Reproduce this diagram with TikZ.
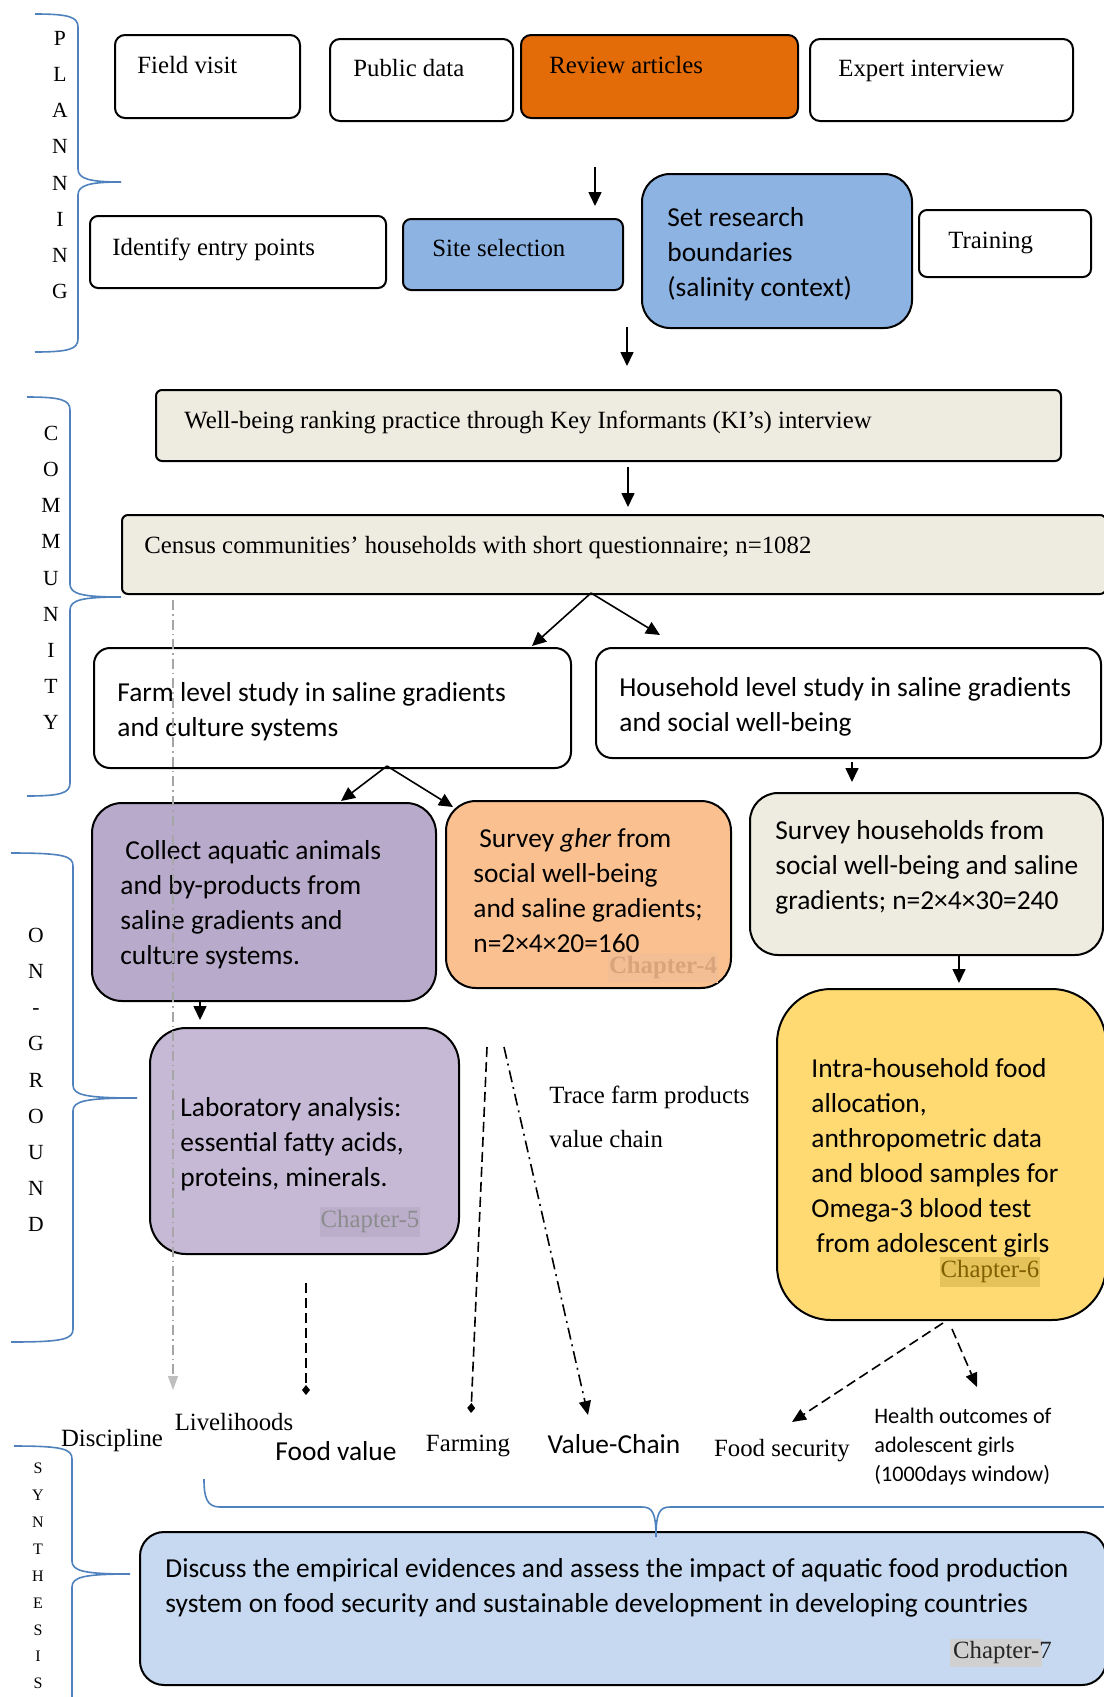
\documentclass[tikz,border=0pt]{standalone}
\usepackage{fontspec}
\setmainfont{Liberation Serif}
\newfontfamily\calibri{Carlito}
\usetikzlibrary{arrows.meta}

\definecolor{revieworange}{HTML}{E36C09}
\definecolor{siteblue}{HTML}{8DB3E2}
\definecolor{rankgrey}{HTML}{EEECE1}
\definecolor{collectpurple}{HTML}{B8AACB}
\definecolor{labpurple}{HTML}{C5B9D6}
\definecolor{gherpeach}{HTML}{FAC090}
\definecolor{girlsyellow}{HTML}{FFD972}
\definecolor{synthblue}{HTML}{C6D9F1}
\definecolor{braceblue}{HTML}{4F81BD}
\definecolor{chfivehl}{HTML}{BAAECB}
\definecolor{chfourhl}{HTML}{F3BE93}
\definecolor{chfourtext}{HTML}{D9A47C}
\definecolor{chsixhl}{HTML}{E6C35A}
\definecolor{chsixtext}{HTML}{7F6000}
\definecolor{chsevenhl}{HTML}{D0D0D0}

% curly bracket of a phase: left end, stem, tip x; top, tip, bottom y
\newcommand{\phasebrace}[6]{%
  \draw[phase] (#1,#4) .. controls (#2-9,#4) and (#2,#4+3) .. (#2,#4+13)
    -- (#2,#5-13) .. controls (#2,#5-3) and (#2+12,#5) .. (#3,#5)
    .. controls (#2+12,#5) and (#2,#5+3) .. (#2,#5+13)
    -- (#2,#6-13) .. controls (#2,#6-3) and (#2-9,#6) .. (#1,#6);}

\begin{document}
\begin{tikzpicture}[x=0.5pt,y=-0.5pt,
    box/.style={draw=black, line width=1pt, anchor=north west, inner sep=0pt},
    words/.style={font=\fontsize{12.4}{15}\selectfont, text height=8.7pt, text depth=2.7pt, inner xsep=0pt},
    sans/.style={font=\calibri\fontsize{13.7}{17.5}\selectfont, align=left, inner xsep=0pt},
    letters/.style={align=center, font=\fontsize{10.8}{18.1}\selectfont},
    chap/.style={font=\fontsize{12.4}{15}\selectfont, inner xsep=0.5pt, inner ysep=2pt},
    arr/.style={line width=0.8pt, -{Triangle[length=7pt,width=6.5pt]}},
    dashedarr/.style={line width=0.8pt, dash pattern=on 5pt off 2.5pt},
    phase/.style={draw=braceblue, line width=0.8pt}]

\useasboundingbox (0,0) rectangle (1103,1697);

% boxes
\begin{scope}[every node/.style={box, rounded corners=5pt}]
    \node[minimum width=92.5pt, minimum height=41.5pt] (field) at (114,34) {};
    \node[minimum width=91.5pt, minimum height=41pt] (public) at (329,38) {};
    \node[minimum width=138.5pt, minimum height=41.5pt, fill=revieworange] (review) at (520,34) {};
    \node[minimum width=131.5pt, minimum height=41pt] (expert) at (809,38) {};

    \node[minimum width=148pt, minimum height=36pt, rounded corners=4pt] (identify) at (89,215) {};
    \node[minimum width=110pt, minimum height=35.5pt, rounded corners=4pt, fill=siteblue] (site) at (402,218) {};
    \node[minimum width=135pt, minimum height=77pt, rounded corners=14pt, fill=siteblue] (bound) at (641,173) {};
    \node[minimum width=86pt, minimum height=33.5pt, rounded corners=4pt] (training) at (918,209) {};

    \node[minimum width=452.5pt, minimum height=35.5pt, rounded corners=3pt, fill=rankgrey] (ranking) at (155,389) {};
    \node[minimum width=492pt, minimum height=39.5pt, rounded corners=3pt, fill=rankgrey] (census) at (121,514) {};

    \node[minimum width=238.5pt, minimum height=60pt, rounded corners=8pt] (farm) at (93,647) {};
    \node[minimum width=252.5pt, minimum height=55pt, rounded corners=8pt] (household) at (595,647) {};

    \node[minimum width=172pt, minimum height=99pt, rounded corners=15pt, fill=collectpurple] (collect) at (91,802) {};
    \node[minimum width=142.5pt, minimum height=93.5pt, rounded corners=15pt, fill=gherpeach] (gher) at (445,800) {};
    \node[minimum width=176.5pt, minimum height=81pt, rounded corners=14pt, fill=rankgrey] (hhsurvey) at (749,792) {};
    \node[minimum width=154.5pt, minimum height=113pt, rounded corners=18pt, fill=labpurple] (lab) at (149,1027) {};
    \node[minimum width=164.5pt, minimum height=165.5pt, rounded corners=27pt, fill=girlsyellow] (girls) at (776,988) {};

    \node[minimum width=483pt, minimum height=76.5pt, rounded corners=12pt, fill=synthblue] (synth) at (139,1531) {};
\end{scope}

% chapters
\node[chap, text=black!45, fill=chfivehl] (chapfive) at (370,1222) {Chapter-5};
\node[chap, font=\fontsize{12.4}{15}\selectfont\bfseries, text=chfourtext, fill=chfourhl] (chapfour) at (663,968) {Chapter-4};
\node[chap, text=chsixtext, fill=chsixhl] (chapsix) at (990,1272) {Chapter-6};
\node[chap, inner sep=0pt, text=black!85] (chapseven) at (1001,1653) {\setlength{\fboxsep}{1.5pt}\colorbox{chsevenhl}{Chapter-}\hspace{-1.5pt}7};

% texts in the boxes
\begin{scope}[every node/.style={words, anchor=west}]
    \node (field-t) at (137,67) {Field visit};
    \node (public-t) at (353,70) {Public data};
    \node (review-t) at (549,67) {Review articles};
    \node (expert-t) at (838,70) {Expert interview};
    \node (identify-t) at (112,249) {Identify entry points};
    \node (site-t) at (432,250) {Site selection};
    \node (training-t) at (948,242) {Training};
    \node (ranking-t) at (184,422) {Well-being ranking practice through Key Informants (KI’s) interview};
    \node (census-t) at (144,547) {Census communities’ households with short questionnaire; n=1082};
\end{scope}
\begin{scope}[every node/.style={sans, anchor=west}]
    \node (bound-t) at (667,254) {Set research\\boundaries\\(salinity context)};
    \node (farm-t) at (117,712) {Farm level study in saline gradients\\and culture systems};
    \node (household-t) at (619,707) {Household level study in saline gradients\\and social well-being};
    \node (collect-t) at (120,905) {\hspace*{2.5pt}Collect aquatic animals\\and by-products from\\saline gradients and\\culture systems.};
    \node (gher-t) at (473,891) {\hspace*{3pt}Survey \textit{gher} from\\social well-being\\and saline gradients;\\n=2×4×20=160};
    \node (hhsurvey-t) at (775,867) {Survey households from\\social well-being and saline\\gradients; n=2×4×30=240};
    \node (lab-t) at (180,1144) {Laboratory analysis:\\essential fatty acids,\\proteins, minerals.};
    \node (girls-t) at (811,1158) {Intra-household food\\allocation,\\anthropometric data\\and blood samples for\\Omega-3 blood test\\\hspace*{2.5pt}from adolescent girls};
    \node (synth-t) at (165,1588) {Discuss the empirical evidences and assess the impact of aquatic food production\\system on food security and sustainable development in developing countries};
\end{scope}

% phases
\node[letters] (planning) at (60,165) {P\\L\\A\\N\\N\\I\\N\\G};
\node[letters] (community) at (51,578) {C\\O\\M\\M\\U\\N\\I\\T\\Y};
\node[letters] (onground) at (36,1080) {O\\N\\-\\G\\R\\O\\U\\N\\D};
\node[letters, font=\fontsize{8}{13.45}\selectfont] (synthesis) at (38,1576) {S\\Y\\N\\T\\H\\E\\S\\I\\S};

\phasebrace{35}{78}{121}{14}{182}{352}
\phasebrace{27}{70}{121}{397}{597}{796}
\phasebrace{11}{73}{137}{853}{1098}{1342}
\phasebrace{14}{72}{130}{1446}{1574}{1712}

% disciplines
\node[words] (discipline) at (112,1440) {Discipline};
\node[words] (livelihoods) at (234,1424) {Livelihoods};
\node[sans, text height=9.5pt, text depth=2.8pt] (foodvalue) at (336,1454) {Food value};
\node[words] (farming) at (468,1445) {Farming};
\node[sans, text height=9.5pt, text depth=2.8pt] (valuechain) at (614,1447) {Value-Chain};
\node[words] (foodsec) at (782,1450) {Food security};
\node[sans, anchor=west, font=\calibri\fontsize{11.1}{14.5}\selectfont] (health) at (874,1447) {Health outcomes of\\adolescent girls\\(1000days window)};
\node[anchor=west, align=left, inner xsep=0pt, font=\fontsize{12.4}{22}\selectfont] (trace) at (549,1117) {Trace farm products\\value chain};

% arrows
\coordinate (fromreview) at (595,167);
\coordinate (tosite) at (595,206);
\coordinate (fromplan) at (627,327);
\coordinate (toranking) at (627,366);
\coordinate (fromranking) at (628,467);
\coordinate (tocensus) at (628,507);
\coordinate (splitcensus) at (591,593);
\coordinate (tofarm) at (532,646);
\coordinate (tohousehold) at (660,635);
\coordinate (splitfarm) at (387,766);
\coordinate (tocollect) at (341,801);
\coordinate (togher) at (453,807);
\coordinate (fromhousehold) at (852,762);
\coordinate (tohhsurvey) at (852,782);
\coordinate (tolab) at (200,1020);
\coordinate (togirls) at (959,983);

\draw[arr] (fromreview) -- (tosite);
\draw[arr] (fromplan) -- (toranking);
\draw[arr] (fromranking) -- (tocensus);
\draw[arr] (splitcensus) -- (tofarm);
\draw[arr] (splitcensus) -- (tohousehold);
\draw[arr] (splitfarm) -- (tocollect);
\draw[arr] (splitfarm) -- (togher);
\draw[arr] (fromhousehold) -- (tohhsurvey);
\draw[arr] (collect.south -| tolab) -- (tolab);
\draw[arr] (hhsurvey.south -| togirls) -- (togirls);

% towards the disciplines
\coordinate (fromcensus) at (173,600);
\coordinate (tolivelihoods) at (173,1390);
\coordinate (fromlab) at (306,1283);
\coordinate (tofoodvalue) at (306,1395);
\coordinate (fromtrace) at (487,1047);
\coordinate (tofarming) at (471,1413);
\coordinate (fromchain) at (504,1047);
\coordinate (tovaluechain) at (588,1415);
\coordinate (fromgirlsa) at (943,1323);
\coordinate (tofoodsec) at (792,1422);
\coordinate (fromgirlsb) at (952,1329);
\coordinate (tohealth) at (977,1387);

\draw[line width=0.7pt, black!35, dash pattern=on 5pt off 2pt on 0.8pt off 2pt, -{Triangle[length=7pt,width=5pt,fill=black!25,color=black!25]}] (fromcensus) -- (tolivelihoods);
\draw[dashedarr, -{Diamond[length=5pt,width=4pt]}] (fromlab) -- (tofoodvalue);
\draw[dashedarr, -{Diamond[length=5pt,width=4pt]}] (fromtrace) -- (tofarming);
\draw[line width=0.8pt, dash pattern=on 6pt off 2.5pt on 1pt off 2.5pt, -{Triangle[length=7pt,width=6pt]}] (fromchain) -- (tovaluechain);
\draw[dashedarr, -{Triangle[length=7pt,width=6pt]}] (fromgirlsa) -- (tofoodsec);
\draw[dashedarr, -{Triangle[length=7pt,width=6pt]}] (fromgirlsb) -- (tohealth);

% bracket over the disciplines
\draw[phase] (204,1479) .. controls (204,1498) and (207,1507) .. (220,1507) -- (642,1507)
    .. controls (652,1507) and (656,1512) .. (656,1537)
    .. controls (656,1512) and (660,1507) .. (670,1507) -- (1110,1507);

\end{tikzpicture}
\end{document}
